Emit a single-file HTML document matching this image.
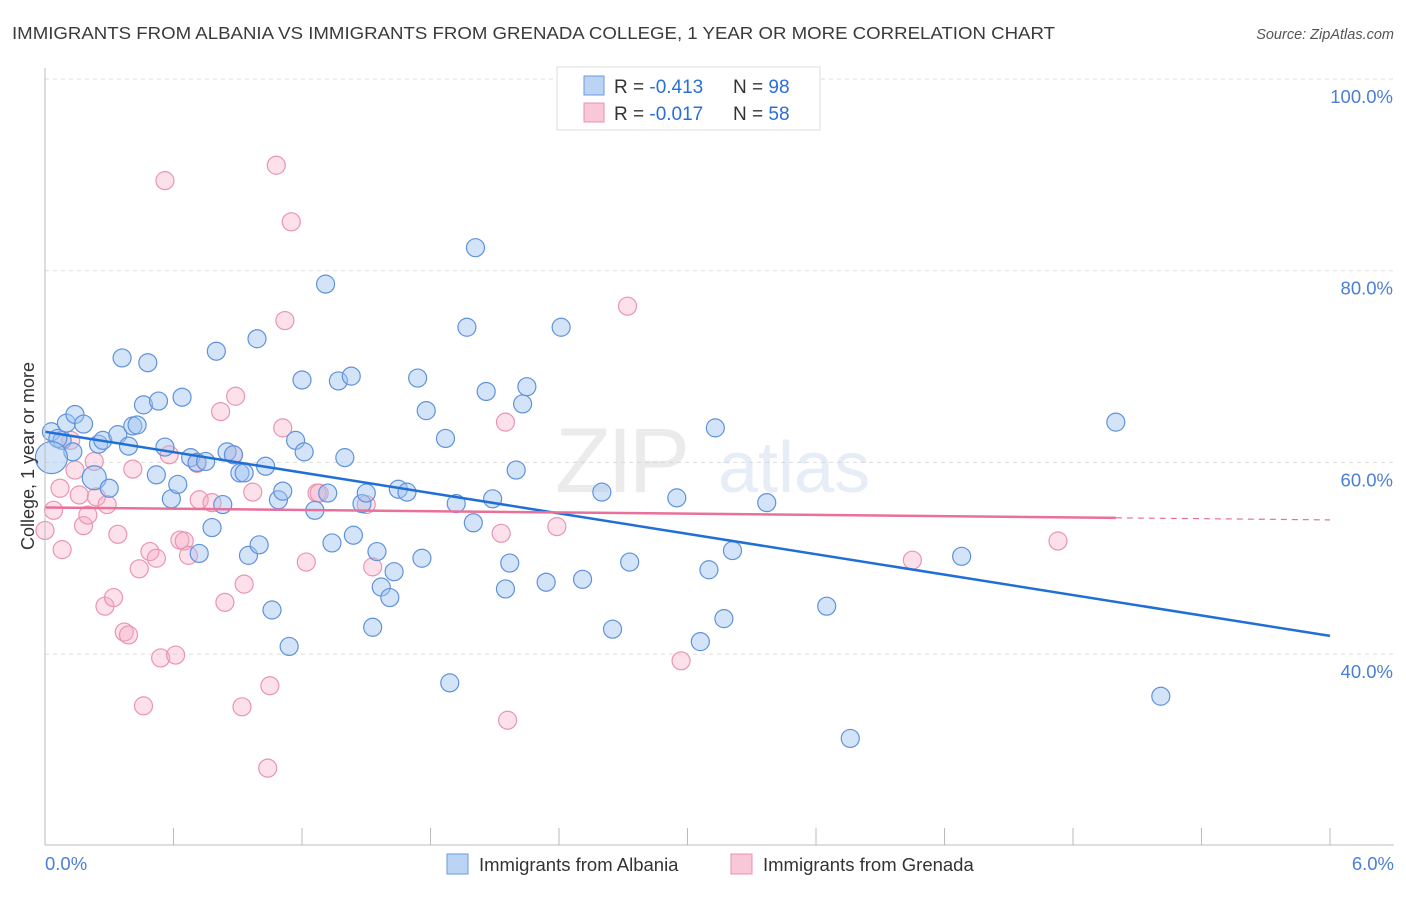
<!DOCTYPE html>
<html><head><meta charset="utf-8"><style>
body{margin:0;background:#fff;font-family:"Liberation Sans",sans-serif;}
svg text{font-family:"Liberation Sans",sans-serif;}
</style></head><body>
<svg id="chart" width="1406" height="892" xmlns="http://www.w3.org/2000/svg">
<text x="12" y="39" font-size="17.5" fill="#3a3a3a" textLength="1043" lengthAdjust="spacingAndGlyphs">IMMIGRANTS FROM ALBANIA VS IMMIGRANTS FROM GRENADA COLLEGE, 1 YEAR OR MORE CORRELATION CHART</text>
<text x="1394" y="39" font-size="14.5" fill="#555" font-style="italic" text-anchor="end">Source: ZipAtlas.com</text>
<g id="grid"></g>
<g opacity="0.35">
<text x="555" y="492" font-size="92" fill="#c8c8c8" font-family="Liberation Serif" letter-spacing="-4">ZIP</text>
<text x="718" y="492" font-size="72" fill="#b8cce8">atlas</text>
</g>
<g id="pts"></g>
<g id="lines"></g>
<g id="axes"></g>
<text transform="translate(34,456) rotate(-90)" font-size="18" fill="#333" text-anchor="middle">College, 1 year or more</text>
<g>
<rect x="557" y="67" width="263" height="63" fill="#fff" stroke="#ddd"/>
<rect x="584" y="76" width="20" height="19" fill="#bcd4f4" stroke="#6a9ae0"/>
<rect x="584" y="103" width="20" height="19" fill="#f9c8d8" stroke="#e890ae"/>
<text x="614" y="93" font-size="19" fill="#333">R = <tspan fill="#2b6fd6">-0.413</tspan></text>
<text x="733" y="93" font-size="19" fill="#333">N = <tspan fill="#2b6fd6">98</tspan></text>
<text x="614" y="120" font-size="19" fill="#333">R = <tspan fill="#2b6fd6">-0.017</tspan></text>
<text x="733" y="120" font-size="19" fill="#333">N = <tspan fill="#2b6fd6">58</tspan></text>
</g>
<g>
<rect x="447" y="854" width="21" height="20" fill="#bcd4f4" stroke="#6a9ae0"/>
<text x="479" y="871" font-size="18.5" fill="#333">Immigrants from Albania</text>
<rect x="731" y="854" width="21" height="20" fill="#f9c8d8" stroke="#e890ae"/>
<text x="763" y="871" font-size="18.5" fill="#333">Immigrants from Grenada</text>
</g>
</svg>
<script>
const blueX=[0.03,0.08,0.06,0.10,0.14,0.18,0.13,0.25,0.27,0.23,0.30,0.34,0.39,0.41,0.43,0.36,0.48,0.46,0.53,0.64,0.56,0.52,0.59,0.62,0.68,0.71,0.75,0.78,0.72,0.80,0.83,0.85,0.88,0.91,0.93,0.95,0.99,1.00,1.03,1.06,1.09,1.11,1.14,1.17,1.20,1.21,1.26,1.31,1.32,1.34,1.37,1.40,1.43,1.44,1.48,1.50,1.53,1.55,1.57,1.61,1.63,1.65,1.69,1.74,1.76,1.78,1.87,1.89,1.92,1.97,2.00,2.01,2.06,2.09,2.15,2.17,2.20,2.23,2.25,2.34,2.41,2.51,2.60,2.65,2.73,2.95,3.06,3.10,3.13,3.17,3.21,3.37,3.65,3.76,4.28,5.00,5.21,0.03];
const blueY=[63.2,62.3,62.5,64.1,65.0,64.0,61.1,61.9,62.3,58.4,57.3,62.9,61.7,63.8,63.9,70.9,70.4,66.0,66.4,66.8,61.6,58.7,56.2,57.7,60.5,60.0,60.1,53.2,50.5,71.6,55.6,61.1,60.8,58.9,58.9,50.3,72.9,51.4,59.6,44.6,56.1,57.0,40.8,62.3,68.6,61.1,55.0,78.6,56.8,51.6,68.5,60.5,69.0,52.4,55.7,56.8,42.8,50.7,47.0,45.9,48.6,57.2,56.9,68.8,50.0,65.4,62.5,37.0,55.7,74.1,53.7,82.4,67.4,56.2,46.8,49.5,59.2,66.1,67.9,47.5,74.1,47.8,56.9,42.6,49.6,56.3,41.3,48.8,63.6,43.7,50.8,55.8,45.0,31.2,50.2,64.2,35.6,60.5];
const blueBig={9:12,97:16};
const pinkX=[0.04,0.07,0.08,0.12,0.14,0.16,0.18,0.20,0.23,0.24,0.28,0.29,0.32,0.34,0.37,0.39,0.41,0.44,0.46,0.49,0.52,0.54,0.56,0.58,0.61,0.63,0.65,0.67,0.71,0.72,0.78,0.82,0.84,0.88,0.89,0.92,0.93,0.97,1.04,1.05,1.08,1.11,1.12,1.15,1.22,1.27,1.28,1.50,1.53,2.15,2.13,2.16,2.39,2.72,2.97,4.05,4.73,0.00];
const pinkY=[55.0,57.3,50.9,62.3,59.2,56.6,53.4,54.5,60.1,56.4,45.0,55.6,45.9,52.5,42.3,42.0,59.3,48.9,34.6,50.7,50.0,39.6,89.4,60.8,39.9,51.9,51.8,50.3,59.9,56.1,55.8,65.3,45.4,60.8,66.9,34.5,47.3,56.9,28.1,36.7,91.0,63.6,74.8,85.1,49.6,56.8,56.8,55.6,49.1,64.2,52.6,33.1,53.3,76.3,39.3,49.8,51.8,52.9];
const blueLine=[63.2,41.9];
const pinkLine=[55.3,54.0];
const pinkSolidEnd=5.0;
const yTicks=[100,80,60,40];
const xTickLabels=["0.0%","6.0%"];

const X0=45,X1=1330,Ytop=79,PXPER=9.585;
const sx=v=>X0+(X1-X0)*v/6;
const sy=v=>Ytop+(100-v)*PXPER;
const NS="http://www.w3.org/2000/svg";
function mk(tag,attrs,parent){const e=document.createElementNS(NS,tag);for(const k in attrs)e.setAttribute(k,attrs[k]);parent.appendChild(e);return e;}
const grid=document.getElementById('grid'),pts=document.getElementById('pts'),lines=document.getElementById('lines'),axes=document.getElementById('axes');
yTicks.forEach(t=>{
  const l=mk('line',{x1:X0,x2:1394,y1:sy(t),y2:sy(t),stroke:'#ddd','stroke-dasharray':'4,4'},grid);
  
  
  const tx=mk('text',{x:1393,y:sy(t)+24,'font-size':18.5,fill:'#4a7fd6','text-anchor':'end'},axes);
  tx.textContent=t.toFixed(1)+'%';
  
  
});
const ax=mk('line',{x1:X0,x2:1394,y1:845,y2:845,stroke:'#bbb'},axes);


const ay=mk('line',{x1:X0,x2:X0,y1:68,y2:845,stroke:'#bbb'},axes);


for(let i=0;i<=10;i++){
  const tk=mk('line',{x1:sx(i*0.6),x2:sx(i*0.6),y1:828,y2:845,stroke:'#bbb'},axes);
  
  
}
const xl0=mk('text',{x:45,y:870,'font-size':18.5,fill:'#4a7fd6'},axes);xl0.textContent=xTickLabels[0];


const xl1=mk('text',{x:1394,y:870,'font-size':18.5,fill:'#4a7fd6','text-anchor':'end'},axes);xl1.textContent=xTickLabels[1];



pinkX.forEach((x,i)=>{
  const c=mk('circle',{cx:sx(x),cy:sy(pinkY[i]),r:9,fill:'rgba(245,170,195,0.35)',stroke:'#eb94b2','stroke-width':1.2},pts);
  
  
});
blueX.forEach((x,i)=>{
  const c=mk('circle',{cx:sx(x),cy:sy(blueY[i]),r:blueBig[i]||9,fill:'rgba(160,196,240,0.45)',stroke:'#5f92dc','stroke-width':1.2},pts);
  
  
});
const pAt=x=>pinkLine[0]+(pinkLine[1]-pinkLine[0])*x/6;
const bl=mk('line',{x1:sx(0),y1:sy(blueLine[0]),x2:sx(6),y2:sy(blueLine[1]),stroke:'#1f6fd6','stroke-width':2.5},lines);


const pl=mk('line',{x1:sx(0),y1:sy(pAt(0)),x2:sx(pinkSolidEnd),y2:sy(pAt(pinkSolidEnd)),stroke:'#e8709a','stroke-width':2.5},lines);


const pd=mk('line',{x1:sx(pinkSolidEnd),y1:sy(pAt(pinkSolidEnd)),x2:sx(6),y2:sy(pAt(6)),stroke:'#e8709a','stroke-width':1.2,'stroke-dasharray':'6,5'},lines);


</script>
</body></html>
